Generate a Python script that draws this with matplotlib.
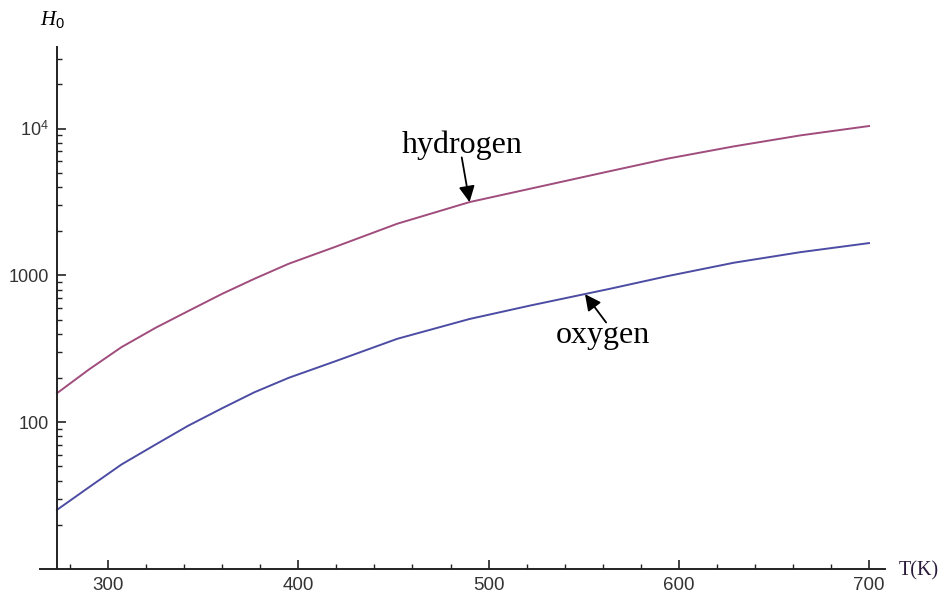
#Grafico H0 x T (escala log)
import numpy as np
import matplotlib
matplotlib.use('Agg')
import matplotlib.pyplot as plt
from matplotlib.ticker import FixedLocator, FixedFormatter, LogLocator, NullFormatter

#Dados
temperatura = [273.15, 290, 307, 325, 342, 360, 377, 395, 419, 452, 490, 522, 564, 594, 629, 664, 700]
hidrogenio = [157.7, 229, 324.5, 440, 571, 750, 950, 1202, 1559, 2251, 3160, 3900, 5140, 6245, 7575, 9000, 10420]
oxigenio = [25.3, 36.1, 51.5, 70.5, 94.5, 124.6, 160.2, 200.8, 259, 370, 505, 624, 812, 989, 1221, 1441, 1661]

#Ticks
x_ticks = [300, 400, 500, 600, 700]
y_ticks = [100, 1000, 10000]
y_labels = ['100', '1000', r'$10^{4}$']

plt.rcParams['mathtext.fontset'] = 'custom'
plt.rcParams['mathtext.rm'] = 'Liberation Sans'
plt.rcParams['mathtext.it'] = 'Liberation Serif:italic'

fig = plt.figure(figsize=(9.45, 5.99), dpi=100)
ax = fig.add_axes([40 / 945, 1 - 569 / 599, 845 / 945, 522 / 599])

#Curvas
ax.plot(temperatura, hidrogenio, color='#a04c7c', lw=1.4, solid_joinstyle='round')
ax.plot(temperatura, oxigenio, color='#4c4ca4', lw=1.4, solid_joinstyle='round')

ax.set_yscale('log')
ax.set_xlim(264.2, 708.4)
ax.set_ylim(10, 36000)

#Eixos estilo Mathematica
ax.spines['top'].set_visible(False)
ax.spines['right'].set_visible(False)
ax.spines['left'].set_position(('data', 273.15))
for s in ['left', 'bottom']:
    ax.spines[s].set_color('#222222')
    ax.spines[s].set_linewidth(1.4)

ax.xaxis.set_major_locator(FixedLocator(x_ticks))
ax.xaxis.set_minor_locator(FixedLocator([t for t in range(280, 701, 20) if t % 100 != 0]))
ax.yaxis.set_major_locator(FixedLocator(y_ticks))
ax.yaxis.set_major_formatter(FixedFormatter(y_labels))
ax.yaxis.set_minor_locator(LogLocator(base=10, subs=np.arange(2, 10)))
ax.yaxis.set_minor_formatter(NullFormatter())

ax.tick_params(which='major', direction='in', length=6.5, width=1.2, color='#222222',
               labelsize=13.5, labelcolor='#333333', pad=6)
ax.tick_params(axis='y', which='major', labelsize=13)
ax.tick_params(which='minor', direction='in', length=3.6, width=1.0, color='#222222')
for lab in ax.get_xticklabels() + ax.get_yticklabels():
    lab.set_fontfamily('Liberation Sans')

#Rotulos dos eixos
fig.text(40 / 945, 1 - 9 / 599, r'$H_0$', fontsize=15, ha='left', va='top')
fig.text(899 / 945, 1 - 571 / 599, 'T(K)', fontsize=14.5, family='Liberation Serif',
         color='#2a1a3a', ha='left', va='center')

#Anotacoes
ax.text(486, 7660, 'hydrogen', fontsize=23, family='Liberation Serif', ha='center', va='center')
ax.annotate('', xy=(490, 3160), xytext=(485.9, 6370),
            arrowprops=dict(arrowstyle='-|>', mutation_scale=24, lw=1.3, color='black',
                            shrinkA=0, shrinkB=0))
ax.text(560.2, 390, 'oxygen', fontsize=23, family='Liberation Serif', ha='center', va='center')
ax.annotate('', xy=(550.7, 745), xytext=(561.8, 478),
            arrowprops=dict(arrowstyle='-|>', mutation_scale=24, lw=1.3, color='black',
                            shrinkA=0, shrinkB=0))

plt.savefig('out.png', dpi=100)
